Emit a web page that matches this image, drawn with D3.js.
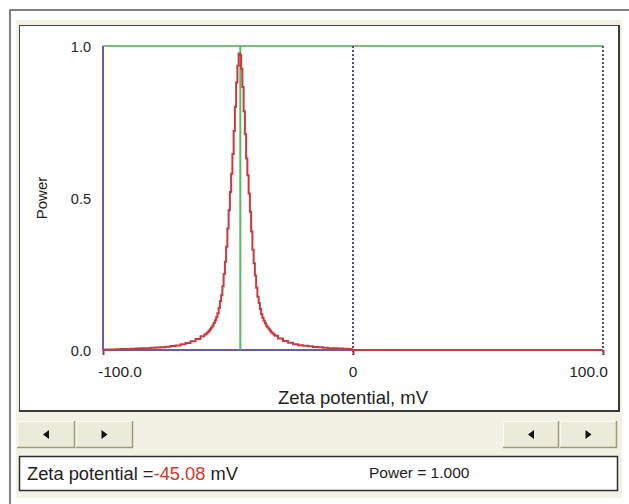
<!DOCTYPE html>
<html>
<head>
<meta charset="utf-8">
<script src="https://cdn.jsdelivr.net/npm/d3@7"></script>
<style>
  body { margin: 0; background: #ffffff; }
  svg { display: block; font-family: Arial, "Liberation Sans", sans-serif; }
</style>
</head>
<body>
<svg id="chart" width="629" height="504"></svg>
<script>
// Zeta potential distribution (mV) and normalised power
const zeta = [
  -100, -98, -96, -94, -92, -90, -88, -86, -84, -82, -80, -78, -76, -74, -72, -70,
  -68, -66, -64, -62, -60,
  -59, -58.5, -58, -57.5, -57, -56.5, -56, -55.5, -55, -54.5, -54, -53.5, -53, -52.5,
  -52, -51.5, -51, -50.5, -50, -49.5, -49, -48.5, -48, -47.5, -47, -46.5, -46, -45.5,
  -45, -44.5, -44, -43.5, -43, -42.5, -42, -41.5, -41, -40.5, -40, -39.5, -39, -38.5,
  -38, -37.5, -37, -36.5, -36, -35.5, -35, -34.5, -34, -33.5, -33, -32.5, -32, -31.5, -31,
  -29, -27, -25, -23, -21, -19, -17, -15, -13, -11, -9, -7, -5, -3, -1, 0, 100
];
const power = [
  0.001, 0.0015, 0.002, 0.0025, 0.003, 0.003, 0.004, 0.005, 0.0055, 0.006, 0.007, 0.008, 0.009, 0.011, 0.013, 0.015,
  0.019, 0.023, 0.029, 0.036, 0.045,
  0.051, 0.054, 0.058, 0.063, 0.068, 0.074, 0.081, 0.089, 0.098, 0.108, 0.121, 0.138, 0.160, 0.180,
  0.21, 0.25, 0.29, 0.34, 0.40, 0.46, 0.52, 0.58, 0.645, 0.72, 0.80, 0.88, 0.935, 0.975,
  0.97, 0.925, 0.865, 0.785, 0.71, 0.63, 0.575, 0.515, 0.455, 0.39, 0.33, 0.285, 0.245, 0.205,
  0.175, 0.155, 0.135, 0.118, 0.106, 0.096, 0.088, 0.080, 0.074, 0.068, 0.063, 0.058, 0.054, 0.051, 0.047,
  0.038, 0.030, 0.024, 0.019, 0.016, 0.014, 0.012, 0.010, 0.009, 0.007, 0.006, 0.0055, 0.005, 0.004, 0.003, 0, 0
];

const xTicks = [-100, 0, 100];
const xTickLabels = ["-100.0", "0", "100.0"];
const yTicks = [0, 0.5, 1];
const yTickLabels = ["0.0", "0.5", "1.0"];
const cursorZeta = -45.08;
const cursorPower = 1.000;

const svg = d3.select("#chart");

// ---- window frame ----
svg.append("rect").attr("x", 10).attr("y", 10).attr("width", 640).attr("height", 520)
  .attr("fill", "#ffffff").attr("stroke", "#5a5a5a").attr("stroke-width", 1.5);
svg.append("rect").attr("x", 16).attr("y", 20).attr("width", 606).attr("height", 478)
  .attr("fill", "#f3f1e4");

// chart panel with sunken border
svg.append("rect").attr("x", 19.5).attr("y", 25.5).attr("width", 599).attr("height", 385)
  .attr("fill", "#fdfefd").attr("stroke", "#444").attr("stroke-width", 1);
svg.append("path").attr("d", "M619,25 V411 H19").attr("fill", "none")
  .attr("stroke", "#3a3a3a").attr("stroke-width", 2);

// ---- scales ----
const x = d3.scaleLinear().domain([-100, 100]).range([103, 603]);
const y = d3.scaleLinear().domain([0, 1]).range([350, 46]);

const plot = svg.append("g");

// upper limit line
plot.append("line").attr("x1", x(-100)).attr("x2", x(100)).attr("y1", y(1)).attr("y2", y(1))
  .attr("stroke", "#78c078").attr("stroke-width", 2);

// zero and range markers (dotted)
[0, 100].forEach(v => {
  plot.append("line").attr("x1", x(v)).attr("x2", x(v)).attr("y1", y(1)).attr("y2", y(0) + 5)
    .attr("stroke", "#5c4d78").attr("stroke-width", 2).attr("stroke-dasharray", "2,2");
});

// axis lines
plot.append("line").attr("x1", x(-100)).attr("x2", x(-100)).attr("y1", y(1)).attr("y2", y(0))
  .attr("stroke", "#6a5aaa").attr("stroke-width", 2);
plot.append("line").attr("x1", x(-100)).attr("x2", x(100)).attr("y1", y(0)).attr("y2", y(0))
  .attr("stroke", "#6a5aaa").attr("stroke-width", 2);

// cursor line at the peak
plot.append("line").attr("x1", x(cursorZeta)).attr("x2", x(cursorZeta))
  .attr("y1", y(0)).attr("y2", y(cursorPower))
  .attr("stroke", "#5fb85f").attr("stroke-width", 2);

// x ticks
const xAxis = d3.axisBottom(x).tickValues(xTicks).tickSize(5).tickSizeOuter(0).tickFormat("");
const gx = plot.append("g").attr("transform", `translate(0,${y(0)})`).call(xAxis);
gx.select(".domain").remove();
gx.selectAll(".tick line").attr("stroke", "#8a3a62").attr("stroke-width", 2);

// distribution curve
const data = zeta.map((z, i) => ({ z, p: power[i] }));
plot.append("path").datum(data)
  .attr("d", d3.line().x(d => x(d.z)).y(d => y(d.p)).curve(d3.curveStep))
  .attr("fill", "none").attr("stroke", "#c93a3e").attr("stroke-width", 2);

// tick labels
xTicks.forEach((v, i) => {
  plot.append("text").attr("x", i === 0 ? x(v) - 5 : i === xTicks.length - 1 ? x(v) + 5 : x(v))
    .attr("y", 377)
    .attr("text-anchor", i === 0 ? "start" : i === xTicks.length - 1 ? "end" : "middle")
    .attr("font-size", 15.5).attr("fill", "#262626").text(xTickLabels[i]);
});
yTicks.forEach((v, i) => {
  plot.append("text").attr("x", 91).attr("y", y(v) + 5.5).attr("text-anchor", "end")
    .attr("font-size", 14.5).attr("fill", "#262626").text(yTickLabels[i]);
});

// axis titles
plot.append("text").attr("x", 353).attr("y", 404).attr("text-anchor", "middle")
  .attr("font-size", 18.5).attr("fill", "#222").text("Zeta potential, mV");
plot.append("text").attr("transform", `translate(47,${y(0.5)}) rotate(-90)`)
  .attr("text-anchor", "middle").attr("font-size", 15).attr("fill", "#222").text("Power");

// ---- scroll buttons ----
const buttons = [
  { x0: 17, x1: 75, dir: -1 },
  { x0: 76, x1: 133, dir: 1 },
  { x0: 503, x1: 559, dir: -1 },
  { x0: 560, x1: 617, dir: 1 }
];
const by0 = 421, by1 = 448;
buttons.forEach(b => {
  svg.append("rect").attr("x", b.x0).attr("y", by0).attr("width", b.x1 - b.x0).attr("height", by1 - by0)
    .attr("fill", "#ecead9");
  svg.append("path").attr("d", `M${b.x0 + 0.5},${by1} V${by0 + 0.5} H${b.x1}`)
    .attr("fill", "none").attr("stroke", "#fbfaf2").attr("stroke-width", 1);
  svg.append("path").attr("d", `M${b.x0},${by1 - 0.5} H${b.x1 - 0.5} V${by0}`)
    .attr("fill", "none").attr("stroke", "#9d9a82").attr("stroke-width", 1.5);
  const cx = (b.x0 + b.x1) / 2, cy = (by0 + by1) / 2;
  const s = b.dir;
  // arrow tip points in the scroll direction
  svg.append("path")
    .attr("d", `M${cx - s * 3},${cy - 4.5} L${cx + s * 3},${cy} L${cx - s * 3},${cy + 4.5} Z`)
    .attr("fill", "#111");
});

// ---- readout box ----
svg.append("rect").attr("x", 19.5).attr("y", 456.5).attr("width", 598).attr("height", 34)
  .attr("fill", "#ffffff").attr("stroke", "#2e2e2e").attr("stroke-width", 1.5);
const readout = svg.append("text").attr("x", 27).attr("y", 480).attr("font-size", 18.3).attr("fill", "#222");
readout.append("tspan").text("Zeta potential =");
readout.append("tspan").attr("fill", "#d6352a").text(cursorZeta.toFixed(2));
readout.append("tspan").text(" mV");
svg.append("text").attr("x", 369).attr("y", 478).attr("font-size", 15.5).attr("fill", "#222")
  .text("Power = " + cursorPower.toFixed(3));
</script>
</body>
</html>
